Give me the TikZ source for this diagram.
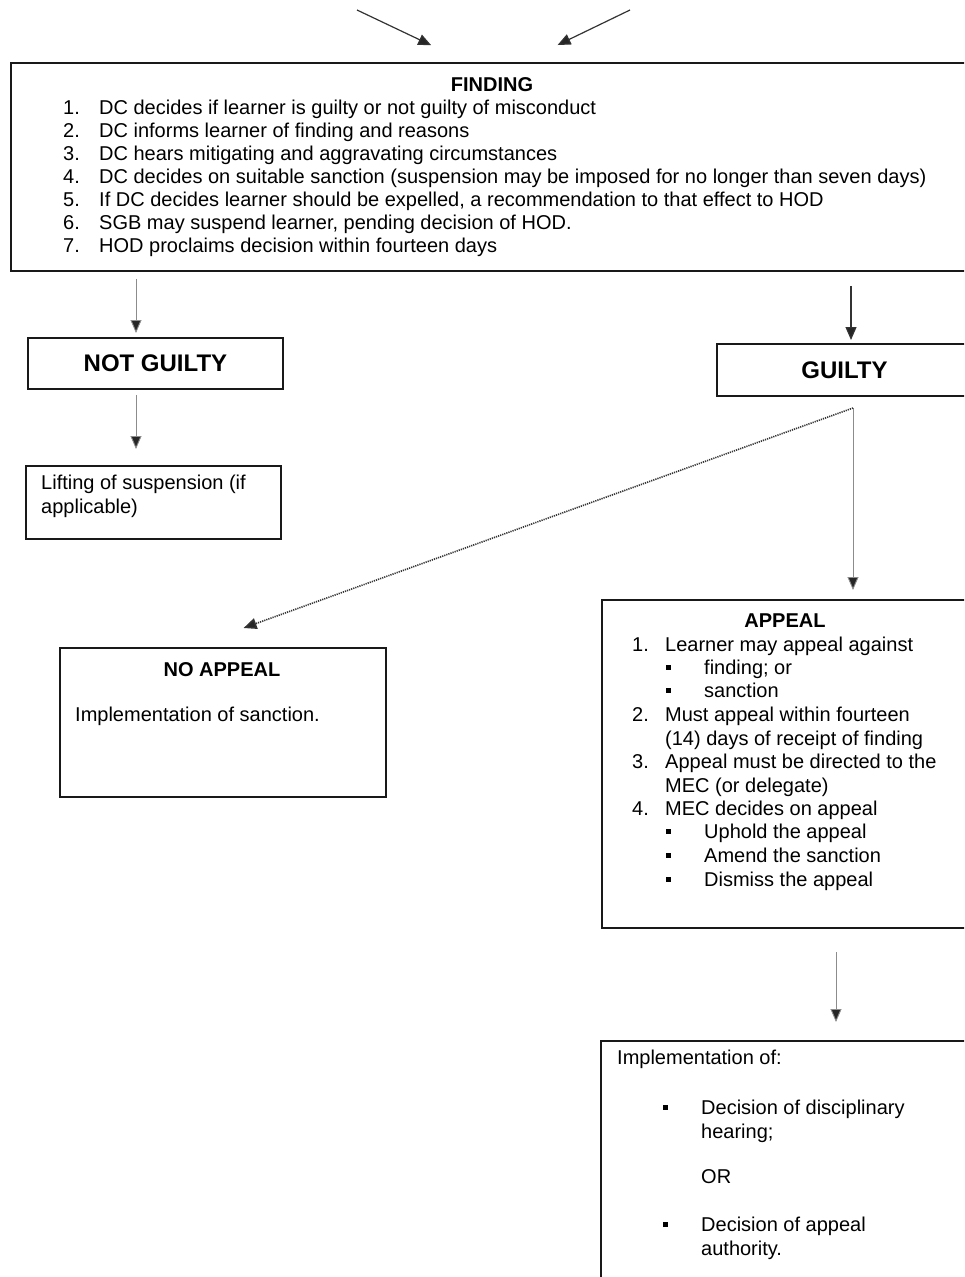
\documentclass[tikz,border=0pt]{standalone}
\usepackage{fontspec}
\setmainfont{Liberation Sans}
\usetikzlibrary{arrows.meta}

\newcommand{\sqbullet}{\rule[0.22em]{0.22em}{0.22em}}

\begin{document}
\begin{tikzpicture}[x=1pt,y=-1pt,
  box/.style={draw=black!90, line width=1.9pt, anchor=north west, inner sep=0pt},
  verdict/.style={box, font=\fontsize{24}{28}\selectfont\bfseries},
  txt/.style={anchor=base west, inner sep=0pt, font=\fontsize{20}{24}\selectfont},
  head/.style={anchor=base, inner sep=0pt, font=\fontsize{20}{24}\selectfont\bfseries},
  arr/.style={draw=black!45, line width=0.9pt, -{Triangle[length=13pt,width=11pt,fill=black!85]}},
  darr/.style={arr, draw=black!80, line width=1.2pt},
  dotarr/.style={darr, densely dotted, line width=1.6pt}]
\useasboundingbox (0,0) rectangle (964,1277);
\clip (0,0) rectangle (964,1277);

% columns of the vertical connectors
\coordinate (colA) at (136,0);
\coordinate (colB) at (851,0);
\coordinate (colC) at (836,0);
\coordinate (inL) at (357,10);
\coordinate (inR) at (630,10);
\coordinate (split) at (853,408);

% boxes
\node[box, minimum width=960pt, minimum height=208pt] (finding) at (10,62) {};
\node[verdict, minimum width=255pt, minimum height=51pt] (notguilty) at (27,337) {NOT GUILTY};
\node[verdict, minimum width=255pt, minimum height=52pt] (guilty) at (716,343) {GUILTY};
\node[box, minimum width=255pt, minimum height=73pt] (lifting) at (25,465) {};
\node[box, minimum width=326pt, minimum height=149pt] (noappeal) at (59,647) {};
\node[box, minimum width=370pt, minimum height=328pt] (appeal) at (601,599) {};
\node[box, minimum width=371pt, minimum height=240pt] (impl) at (600,1040) {};

% finding
\node[head] (findtitle) at (492,91) {FINDING};
\foreach \t [count=\i] in {%
  {DC decides if learner is guilty or not guilty of misconduct},
  {DC informs learner of finding and reasons},
  {DC hears mitigating and aggravating circumstances},
  {DC decides on suitable sanction (suspension may be imposed for no longer than seven days)},
  {If DC decides learner should be expelled, a recommendation to that effect to HOD},
  {SGB may suspend learner, pending decision of HOD.},
  {HOD proclaims decision within fourteen days}} {
  \node[txt] (fn\i) at (63,{91+23*\i}) {\i.};
  \node[txt] (ft\i) at (99,{91+23*\i}) {\t};
}

% not guilty branch
\node[txt] (lift1) at (41,489) {Lifting of suspension (if};
\node[txt] (lift2) at (41,513) {applicable)};

% no appeal
\node[head] (natitle) at (222,676) {NO APPEAL};
\node[txt] (natext) at (75,721) {Implementation of sanction.};

% appeal
\node[head] (aptitle) at (785,627) {APPEAL};
\node[txt] (an1) at (632,651) {1.};
\node[txt] (at1) at (665,651) {Learner may appeal against};
\node[txt] (ab1) at (666,674) {\sqbullet};
\node[txt] (ab1t) at (704,674) {finding; or};
\node[txt] (ab2) at (666,697) {\sqbullet};
\node[txt] (ab2t) at (704,697) {sanction};
\node[txt] (an2) at (632,721) {2.};
\node[txt] (at2) at (665,721) {Must appeal within fourteen};
\node[txt] (at2b) at (665,745) {(14) days of receipt of finding};
\node[txt] (an3) at (632,768) {3.};
\node[txt] (at3) at (665,768) {Appeal must be directed to the};
\node[txt] (at3b) at (665,792) {MEC (or delegate)};
\node[txt] (an4) at (632,815) {4.};
\node[txt] (at4) at (665,815) {MEC decides on appeal};
\node[txt] (ab3) at (666,838) {\sqbullet};
\node[txt] (ab3t) at (704,838) {Uphold the appeal};
\node[txt] (ab4) at (666,862) {\sqbullet};
\node[txt] (ab4t) at (704,862) {Amend the sanction};
\node[txt] (ab5) at (666,886) {\sqbullet};
\node[txt] (ab5t) at (704,886) {Dismiss the appeal};

% implementation
\node[txt] (imtitle) at (617,1064) {Implementation of:};
\node[txt] (ib1) at (663,1114) {\sqbullet};
\node[txt] (ib1t) at (701,1114) {Decision of disciplinary};
\node[txt] (ib1b) at (701,1138) {hearing;};
\node[txt] (ior) at (701,1183) {OR};
\node[txt] (ib2) at (663,1231) {\sqbullet};
\node[txt] (ib2t) at (701,1231) {Decision of appeal};
\node[txt] (ib2b) at (701,1255) {authority.};

% connectors
\draw[darr, shorten >=39pt] (inL) -- ([xshift=-24.5pt]finding.north);
\draw[darr, shorten >=39pt] (inR) -- ([xshift=31.5pt]finding.north);
\draw[arr, shorten <=7pt, shorten >=4pt] (finding.south -| colA) -- (notguilty.north -| colA);
\draw[darr, shorten <=14pt, shorten >=3pt] (finding.south -| colB) -- (guilty.north -| colB);
\draw[arr, shorten <=5pt, shorten >=16pt] (notguilty.south -| colA) -- (lifting.north -| colA);
\draw[arr, shorten >=9pt] (split) -- (appeal.north -| split);
\draw[dotarr, shorten >=56pt] (split) -- ([xshift=-32pt]noappeal.north);
\draw[arr, shorten <=23pt, shorten >=18pt] (appeal.south -| colC) -- (impl.north -| colC);
\end{tikzpicture}
\end{document}
